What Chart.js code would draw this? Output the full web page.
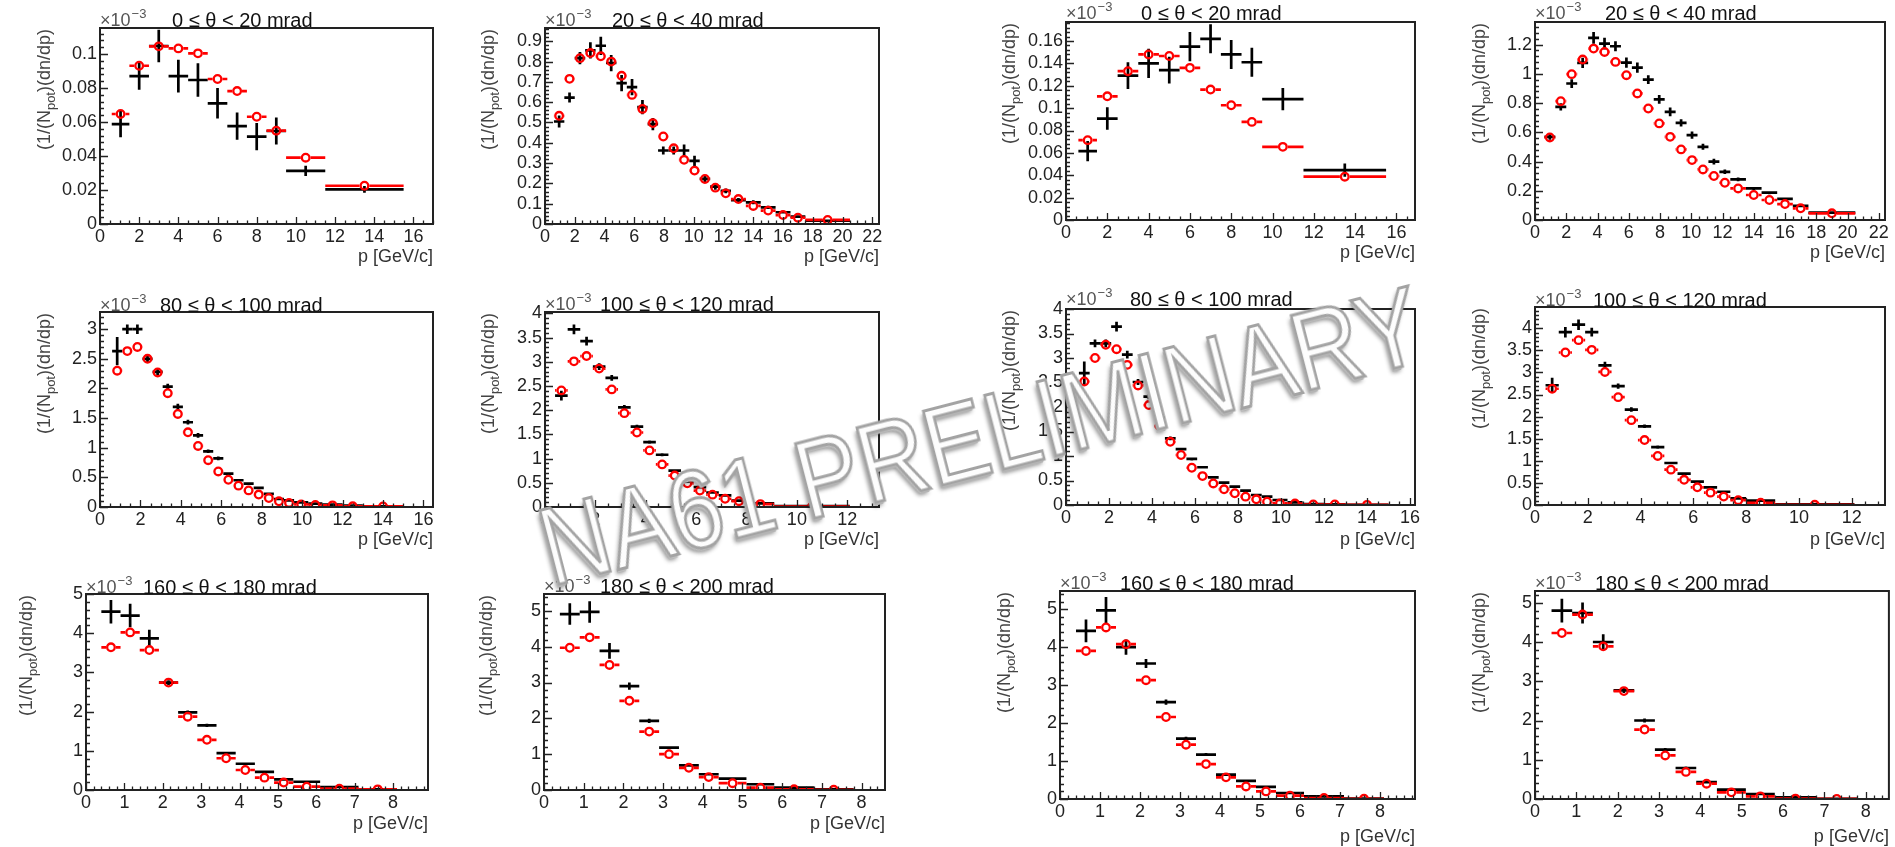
<!DOCTYPE html>
<html>
<head>
<meta charset="utf-8">
<script src="https://cdn.jsdelivr.net/npm/chart.js@4.4.1/dist/chart.umd.min.js"></script>
<style>
  html, body { margin: 0; padding: 0; background: #fff; }
  #wrap { position: relative; width: 1895px; height: 847px; overflow: hidden; background: #fff; }
  #wrap canvas { position: absolute; }
  #wm {
    position: absolute; left: 552px; top: 507px; z-index: 10;
    font-family: "Liberation Sans", Arial, Helvetica, sans-serif;
    font-size: 95px; line-height: 95px; white-space: nowrap;
    color: #fdfdfd; -webkit-text-stroke: 2.6px #a3a3a3;
    text-shadow: -1px 1px 0 #c8c8c8, -2px 2px 0 #b4b4b4, -3px 3px 4px rgba(0,0,0,0.45);
    transform-origin: 0 81px; transform: rotate(-14.5deg) scaleY(1.18);
  }
</style>
</head>
<body>
<div id="wrap"><div id="wm">NA61 PRELIMINARY</div></div>
<script>
// ---- momentum bin edges [GeV/c] per polar-angle interval ----
const edgesTheta0to20    = [0.6, 1.5, 2.5, 3.5, 4.5, 5.5, 6.5, 7.5, 8.5, 9.5, 11.5, 15.5];
const edgesTheta20to40   = [0.6, 1.3, 2.0, 2.7, 3.4, 4.1, 4.8, 5.5, 6.2, 6.9, 7.6, 8.3, 9.0, 9.7, 10.4, 11.1, 11.8, 12.5, 13.5, 14.5, 15.5, 16.5, 17.5, 20.5];
const edgesTheta80to100  = [0.6, 1.1, 1.6, 2.1, 2.6, 3.1, 3.6, 4.1, 4.6, 5.1, 5.6, 6.1, 6.6, 7.1, 7.6, 8.1, 8.6, 9.1, 9.6, 10.3, 11.0, 12.0, 13.0, 15.0];
const edgesTheta100to120 = [0.4, 0.9, 1.4, 1.9, 2.4, 2.9, 3.4, 3.9, 4.4, 4.9, 5.4, 5.9, 6.4, 6.9, 7.4, 8.0, 9.1, 12.1];
const edgesTheta160to180 = [0.4, 0.9, 1.4, 1.9, 2.4, 2.9, 3.4, 3.9, 4.4, 4.9, 5.4, 6.1, 7.1, 8.1];
const edgesTheta180to200 = [0.4, 0.9, 1.4, 1.9, 2.4, 2.9, 3.4, 3.9, 4.4, 5.1, 5.8, 6.8, 7.8];

// ---- spectra, (1/N_pot) dn/dp in units of 1e-3 ----
// measured points (black) with statistical errors, model (red)
const measA1 = [0.0588, 0.087, 0.1047, 0.087, 0.0847, 0.071, 0.0576, 0.0514, 0.0547, 0.0312, 0.0204];
const errA1  = [0.0078, 0.008, 0.0096, 0.0096, 0.0098, 0.009, 0.008, 0.008, 0.008, 0.003, 0.002];
const modelA1 = [0.0647, 0.0931, 0.1045, 0.1033, 0.1004, 0.0853, 0.0782, 0.0631, 0.0549, 0.039, 0.0225];

const measA2 = [0.505, 0.623, 0.817, 0.855, 0.878, 0.793, 0.694, 0.674, 0.576, 0.492, 0.362, 0.362, 0.362, 0.311, 0.222, 0.184, 0.163, 0.118, 0.107, 0.082, 0.058, 0.036, 0.016];
const errA2  = [0.03, 0.025, 0.03, 0.04, 0.045, 0.04, 0.04, 0.04, 0.035, 0.03, 0.02, 0.02, 0.03, 0.025, 0.015, 0.015, 0.012, 0.01, 0.01, 0.008, 0.006, 0.005, 0.003];
const modelA2 = [0.533, 0.715, 0.817, 0.842, 0.826, 0.80, 0.73, 0.636, 0.567, 0.497, 0.431, 0.373, 0.316, 0.263, 0.222, 0.179, 0.151, 0.123, 0.089, 0.066, 0.044, 0.031, 0.020];

const measB1 = [0.0616, 0.0907, 0.129, 0.140, 0.134, 0.155, 0.162, 0.148, 0.141, 0.108, 0.0446];
const errB1  = [0.009, 0.010, 0.012, 0.013, 0.012, 0.013, 0.013, 0.013, 0.013, 0.010, 0.006];
const modelB1 = [0.0714, 0.1106, 0.133, 0.148, 0.1466, 0.136, 0.1166, 0.1026, 0.0877, 0.0654, 0.0387];

const measB2 = [0.569, 0.774, 0.934, 1.075, 1.246, 1.207, 1.189, 1.077, 1.043, 0.961, 0.825, 0.740, 0.665, 0.581, 0.501, 0.399, 0.330, 0.278, 0.216, 0.187, 0.144, 0.096, 0.05];
const errB2  = [0.02, 0.025, 0.03, 0.035, 0.04, 0.04, 0.035, 0.035, 0.035, 0.03, 0.03, 0.03, 0.025, 0.025, 0.02, 0.02, 0.015, 0.012, 0.01, 0.01, 0.008, 0.007, 0.004];
const modelB2 = [0.565, 0.813, 0.998, 1.098, 1.173, 1.150, 1.082, 0.991, 0.866, 0.763, 0.661, 0.569, 0.483, 0.41, 0.346, 0.301, 0.255, 0.216, 0.171, 0.137, 0.109, 0.080, 0.046];

const measA5 = [2.63, 3.0, 3.0, 2.50, 2.28, 2.03, 1.69, 1.43, 1.21, 0.94, 0.82, 0.564, 0.451, 0.395, 0.321, 0.22, 0.135, 0.113, 0.079, 0.056, 0.04, 0.023, 0.011];
const errA5  = [0.24, 0.08, 0.08, 0.07, 0.06, 0.05, 0.05, 0.04, 0.04, 0.03, 0.03, 0.02, 0.02, 0.02, 0.015, 0.012, 0.01, 0.01, 0.008, 0.006, 0.005, 0.004, 0.003];
const modelA5 = [2.30, 2.63, 2.70, 2.50, 2.27, 1.92, 1.57, 1.26, 1.03, 0.79, 0.60, 0.46, 0.36, 0.28, 0.21, 0.152, 0.096, 0.068, 0.045, 0.035, 0.028, 0.012, 0.01];

const measA6 = [2.30, 3.67, 3.43, 2.90, 2.67, 2.06, 1.66, 1.34, 1.08, 0.75, 0.53, 0.41, 0.30, 0.24, 0.13, 0.075, 0.02];
const errA6  = [0.1, 0.1, 0.09, 0.07, 0.06, 0.05, 0.04, 0.035, 0.03, 0.025, 0.02, 0.02, 0.015, 0.012, 0.01, 0.008, 0.004];
const modelA6 = [2.41, 3.01, 3.12, 2.86, 2.43, 1.94, 1.54, 1.17, 0.88, 0.65, 0.49, 0.34, 0.255, 0.17, 0.12, 0.06, 0.01];

const measB5 = [2.69, 3.30, 3.30, 3.64, 3.07, 2.51, 2.21, 1.78, 1.36, 1.14, 0.94, 0.77, 0.565, 0.456, 0.375, 0.293, 0.204, 0.17, 0.102, 0.054, 0.02, 0.014, 0.005];
const errB5  = [0.24, 0.08, 0.08, 0.1, 0.08, 0.06, 0.05, 0.05, 0.04, 0.03, 0.03, 0.02, 0.02, 0.02, 0.015, 0.012, 0.01, 0.01, 0.008, 0.006, 0.005, 0.004, 0.003];
const modelB5 = [2.52, 3.0, 3.27, 3.18, 2.86, 2.44, 2.04, 1.61, 1.29, 1.02, 0.76, 0.59, 0.44, 0.32, 0.24, 0.17, 0.116, 0.068, 0.034, 0.03, 0.01, 0.01, 0.003];

const measB6 = [2.71, 3.91, 4.08, 3.91, 3.16, 2.69, 2.16, 1.78, 1.31, 0.95, 0.71, 0.53, 0.40, 0.30, 0.15, 0.10, 0.015];
const errB6  = [0.17, 0.12, 0.12, 0.1, 0.08, 0.06, 0.05, 0.04, 0.035, 0.03, 0.025, 0.02, 0.015, 0.012, 0.01, 0.008, 0.004];
const modelB6 = [2.63, 3.45, 3.73, 3.51, 3.01, 2.44, 1.92, 1.47, 1.11, 0.80, 0.57, 0.40, 0.28, 0.19, 0.11, 0.05, 0.005];

const measA9 = [4.55, 4.45, 3.87, 2.74, 1.98, 1.65, 0.94, 0.67, 0.46, 0.27, 0.21, 0.077, 0.017];
const errA9  = [0.3, 0.3, 0.22, 0.06, 0.05, 0.04, 0.035, 0.03, 0.025, 0.02, 0.015, 0.01, 0.005];
const modelA9 = [3.64, 4.02, 3.57, 2.74, 1.87, 1.28, 0.81, 0.51, 0.315, 0.19, 0.085, 0.034, 0.017];

const measA10 = [4.91, 4.97, 3.88, 2.90, 1.93, 1.18, 0.69, 0.44, 0.32, 0.16, 0.065, 0.02];
const errA10  = [0.3, 0.3, 0.22, 0.1, 0.06, 0.04, 0.035, 0.03, 0.025, 0.02, 0.01, 0.005];
const modelA10 = [3.97, 4.26, 3.49, 2.49, 1.63, 1.0, 0.62, 0.36, 0.19, 0.065, 0.02, 0.005];

const measB9 = [4.43, 4.97, 4.0, 3.57, 2.55, 1.59, 1.17, 0.64, 0.48, 0.32, 0.158, 0.07, 0.01];
const errB9  = [0.3, 0.35, 0.2, 0.12, 0.07, 0.05, 0.04, 0.035, 0.03, 0.02, 0.015, 0.01, 0.005];
const modelB9 = [3.9, 4.52, 4.08, 3.13, 2.16, 1.43, 0.92, 0.57, 0.33, 0.2, 0.088, 0.026, 0.005];

const measB10 = [4.80, 4.74, 4.0, 2.77, 2.0, 1.26, 0.79, 0.43, 0.24, 0.128, 0.04, 0.005];
const errB10  = [0.3, 0.27, 0.2, 0.07, 0.05, 0.04, 0.035, 0.03, 0.02, 0.015, 0.01, 0.005];
const modelB10 = [4.23, 4.70, 3.89, 2.75, 1.77, 1.11, 0.69, 0.39, 0.17, 0.068, 0.01, 0.003];

// ---- panel titles and axis ranges ----
const panelTitles = ['0 \u2264 \u03b8 < 20 mrad', '20 \u2264 \u03b8 < 40 mrad', '0 \u2264 \u03b8 < 20 mrad', '20 \u2264 \u03b8 < 40 mrad',
                     '80 \u2264 \u03b8 < 100 mrad', '100 \u2264 \u03b8 < 120 mrad', '80 \u2264 \u03b8 < 100 mrad', '100 \u2264 \u03b8 < 120 mrad',
                     '160 \u2264 \u03b8 < 180 mrad', '180 \u2264 \u03b8 < 200 mrad', '160 \u2264 \u03b8 < 180 mrad', '180 \u2264 \u03b8 < 200 mrad'];
const xMaxes = [17.0, 22.45, 16.9, 22.4, 16.47, 13.26, 16.23, 13.26, 8.91, 8.59, 8.875, 8.56];
const yMaxes = [0.1153, 0.9655, 0.177, 1.355, 3.29, 4.03, 4.0, 4.48, 5.0, 5.47, 5.48, 5.3];
const xSteps = [2, 2, 2, 2, 2, 2, 2, 2, 1, 1, 1, 1];
const ySteps = [0.02, 0.1, 0.02, 0.2, 0.5, 0.5, 0.5, 0.5, 1, 1, 1, 1];
const xTitle = 'p [GeV/c]';

// ---- page geometry (canvas box and frame, in page pixels) ----
const layout = [
  { box: [0, 0, 472, 283],      frame: [100, 28, 433, 224],   titleX: 172,  titleY: 21,  yTitleX: 45,   xTitleDy: 33 },
  { box: [472, 0, 478, 283],    frame: [545, 28, 879, 224],   titleX: 612,  titleY: 21,  yTitleX: 489,  xTitleDy: 33 },
  { box: [950, 0, 475, 283],    frame: [1066, 22, 1415, 220], titleX: 1141, titleY: 14,  yTitleX: 1010, xTitleDy: 33 },
  { box: [1425, 0, 470, 283],   frame: [1535, 22, 1885, 220], titleX: 1605, titleY: 14,  yTitleX: 1480, xTitleDy: 33 },
  { box: [0, 283, 472, 283],    frame: [100, 312, 433, 507],  titleX: 160,  titleY: 306, yTitleX: 45,   xTitleDy: 33 },
  { box: [472, 283, 478, 283],  frame: [545, 312, 879, 507],  titleX: 600,  titleY: 305, yTitleX: 489,  xTitleDy: 33 },
  { box: [950, 283, 475, 283],  frame: [1066, 309, 1415, 505],titleX: 1130, titleY: 300, yTitleX: 1010, xTitleDy: 35 },
  { box: [1425, 283, 470, 283], frame: [1535, 307, 1885, 505],titleX: 1593, titleY: 301, yTitleX: 1480, xTitleDy: 35 },
  { box: [0, 566, 472, 281],    frame: [86, 594, 428, 790],   titleX: 143,  titleY: 588, yTitleX: 27,   xTitleDy: 34 },
  { box: [472, 566, 478, 281],  frame: [544, 594, 885, 790],  titleX: 600,  titleY: 587, yTitleX: 487,  xTitleDy: 34 },
  { box: [950, 566, 475, 281],  frame: [1060, 591, 1415, 799],titleX: 1120, titleY: 584, yTitleX: 1005, xTitleDy: 38 },
  { box: [1425, 566, 470, 281], frame: [1535, 591, 1890, 799],titleX: 1595, titleY: 584, yTitleX: 1480, xTitleDy: 38 }
];

const panelEdges = [edgesTheta0to20, edgesTheta20to40, edgesTheta0to20, edgesTheta20to40,
                    edgesTheta80to100, edgesTheta100to120, edgesTheta80to100, edgesTheta100to120,
                    edgesTheta160to180, edgesTheta180to200, edgesTheta160to180, edgesTheta180to200];
const panelMeas  = [measA1, measA2, measB1, measB2, measA5, measA6, measB5, measB6, measA9, measA10, measB9, measB10];
const panelErr   = [errA1, errA2, errB1, errB2, errA5, errA6, errB5, errB6, errA9, errA10, errB9, errB10];
const panelModel = [modelA1, modelA2, modelB1, modelB2, modelA5, modelA6, modelB5, modelB6, modelA9, modelA10, modelB9, modelB10];

const FONT = '"Liberation Sans", Arial, Helvetica, sans-serif';
Chart.defaults.font.family = FONT;

const fmt = v => String(parseFloat(Number(v).toFixed(6)));
const isMultiple = (v, s) => Math.abs(v / s - Math.round(v / s)) < 1e-6;

function rootStylePlugin(k) {
  const g = layout[k];
  const bx = g.box[0], by = g.box[1];
  const xMinor = xSteps[k] === 2 ? 0.5 : xSteps[k] / 5;
  const yMinor = ySteps[k] / 5;
  return {
    id: 'rootStyle',
    beforeDatasetDraw(chart, args) {
      const { ctx, chartArea: a, scales: { x, y } } = chart;
      const ds = chart.data.datasets[args.index];
      ctx.save();
      ctx.beginPath();
      ctx.rect(a.left, a.top, a.right - a.left, a.bottom - a.top);
      ctx.clip();
      ctx.lineCap = 'butt';
      ctx.lineWidth = 2.7;
      if (args.index === 0) {
        // horizontal bin-width bars of the model, broken around the open marker
        ctx.strokeStyle = '#ff0000';
        const r = 4.9;
        ds.data.forEach(p => {
          const px = x.getPixelForValue(p.x), py = y.getPixelForValue(p.y);
          const x0 = x.getPixelForValue(p.xl), x1 = x.getPixelForValue(p.xh);
          ctx.beginPath();
          if (px - r > x0) { ctx.moveTo(x0, py); ctx.lineTo(px - r, py); }
          if (x1 > px + r) { ctx.moveTo(px + r, py); ctx.lineTo(x1, py); }
          ctx.stroke();
        });
      } else {
        // measured points as crosses: bin width and error bar
        ctx.strokeStyle = '#000';
        ds.data.forEach(p => {
          const px = x.getPixelForValue(p.x), py = y.getPixelForValue(p.y);
          ctx.beginPath();
          ctx.moveTo(x.getPixelForValue(p.xl), py);
          ctx.lineTo(x.getPixelForValue(p.xh), py);
          ctx.moveTo(px, y.getPixelForValue(p.y - p.e));
          ctx.lineTo(px, y.getPixelForValue(p.y + p.e));
          ctx.stroke();
        });
      }
      ctx.restore();
    },
    afterDraw(chart) {
      const { ctx, chartArea: a, scales: { x, y } } = chart;
      ctx.save();
      // inward tick marks
      ctx.strokeStyle = '#222';
      ctx.lineWidth = 1.3;
      ctx.beginPath();
      for (let i = 0; ; i++) {
        const v = i * xMinor;
        if (v > xMaxes[k] + 1e-9) break;
        const px = Math.round(x.getPixelForValue(v)) + 0.5;
        const len = isMultiple(v, xSteps[k]) ? 7 : 3.5;
        ctx.moveTo(px, a.bottom);
        ctx.lineTo(px, a.bottom - len);
      }
      for (let i = 0; ; i++) {
        const v = i * yMinor;
        if (v > yMaxes[k] + 1e-9) break;
        const py = Math.round(y.getPixelForValue(v)) + 0.5;
        const len = isMultiple(v, ySteps[k]) ? 8 : 4;
        ctx.moveTo(a.left, py);
        ctx.lineTo(a.left + len, py);
      }
      ctx.stroke();
      // frame
      ctx.lineWidth = 2;
      ctx.strokeRect(a.left, a.top, a.right - a.left, a.bottom - a.top);

      // panel title
      ctx.textBaseline = 'middle';
      ctx.textAlign = 'left';
      ctx.fillStyle = '#111';
      ctx.font = '20px ' + FONT;
      ctx.fillText(panelTitles[k], g.titleX - bx, g.titleY - by);

      // axis multiplier
      ctx.fillStyle = '#555';
      ctx.font = '18px ' + FONT;
      ctx.fillText('\u00d710', a.left, g.titleY - by);
      const w = ctx.measureText('\u00d710').width;
      ctx.font = '13px ' + FONT;
      ctx.fillText('\u22123', a.left + w + 1, g.titleY - by - 7);

      // x-axis title
      ctx.fillStyle = '#333';
      ctx.font = '18px ' + FONT;
      ctx.textAlign = 'right';
      ctx.fillText(xTitle, a.right, a.bottom + g.xTitleDy);

      // y-axis title with subscript, rotated, ending at the top of the frame
      ctx.translate(g.yTitleX - bx, a.top + 1);
      ctx.rotate(-Math.PI / 2);
      ctx.textAlign = 'left';
      const parts = [['(1/(N', 18, 0], ['pot', 13, 6], [')(dn/dp)', 18, 0]];
      let total = 0;
      parts.forEach(pt => { ctx.font = pt[1] + 'px ' + FONT; pt.push(ctx.measureText(pt[0]).width); total += pt[3]; });
      let cx = -total;
      ctx.fillStyle = '#444';
      parts.forEach(pt => {
        ctx.font = pt[1] + 'px ' + FONT;
        ctx.fillText(pt[0], cx, pt[2]);
        cx += pt[3];
      });
      ctx.restore();
    }
  };
}

function makePanel(k) {
  const g = layout[k];
  const [bx, by, bw, bh] = g.box;
  const [L, T, R, B] = g.frame;
  const cv = document.createElement('canvas');
  cv.width = bw; cv.height = bh;
  cv.style.left = bx + 'px'; cv.style.top = by + 'px';
  cv.style.width = bw + 'px'; cv.style.height = bh + 'px';
  document.getElementById('wrap').appendChild(cv);

  const edges = panelEdges[k];
  const centre = i => (edges[i] + edges[i + 1]) / 2;
  const modelPts = panelModel[k].map((v, i) => ({ x: centre(i), y: v, xl: edges[i], xh: edges[i + 1] }));
  const measPts = panelMeas[k].map((v, i) => ({ x: centre(i), y: v, xl: edges[i], xh: edges[i + 1], e: panelErr[k][i] }));

  const tickFont = { family: FONT, size: 18 };
  new Chart(cv, {
    type: 'scatter',
    data: {
      datasets: [
        { label: 'model', data: modelPts, pointStyle: 'circle', pointRadius: 3.8, pointHoverRadius: 3.8,
          borderColor: '#ff0000', backgroundColor: 'rgba(255,255,255,0)', pointBorderWidth: 2.3, showLine: false },
        { label: 'measured', data: measPts, pointRadius: 0, pointHoverRadius: 0, borderColor: '#000', showLine: false }
      ]
    },
    options: {
      responsive: false, animation: false, events: [],
      layout: { padding: { left: 0, top: T - by, right: bx + bw - R, bottom: 0 } },
      plugins: { legend: { display: false }, tooltip: { enabled: false }, title: { display: false } },
      scales: {
        x: {
          type: 'linear', min: 0, max: xMaxes[k],
          afterFit: s => { s.height = by + bh - B; },
          grid: { display: false, drawTicks: false }, border: { display: false },
          ticks: { stepSize: xSteps[k], includeBounds: false, autoSkip: false, maxRotation: 0, minRotation: 0,
                   padding: 2, color: '#222', font: tickFont, callback: fmt }
        },
        y: {
          type: 'linear', min: 0, max: yMaxes[k],
          afterFit: s => { s.width = L - bx; },
          grid: { display: false, drawTicks: false }, border: { display: false },
          ticks: { stepSize: ySteps[k], includeBounds: false, autoSkip: false, padding: 3,
                   color: '#222', font: tickFont, callback: fmt }
        }
      }
    },
    plugins: [rootStylePlugin(k)]
  });
}

for (let k = 0; k < layout.length; k++) makePanel(k);
</script>
</body>
</html>
